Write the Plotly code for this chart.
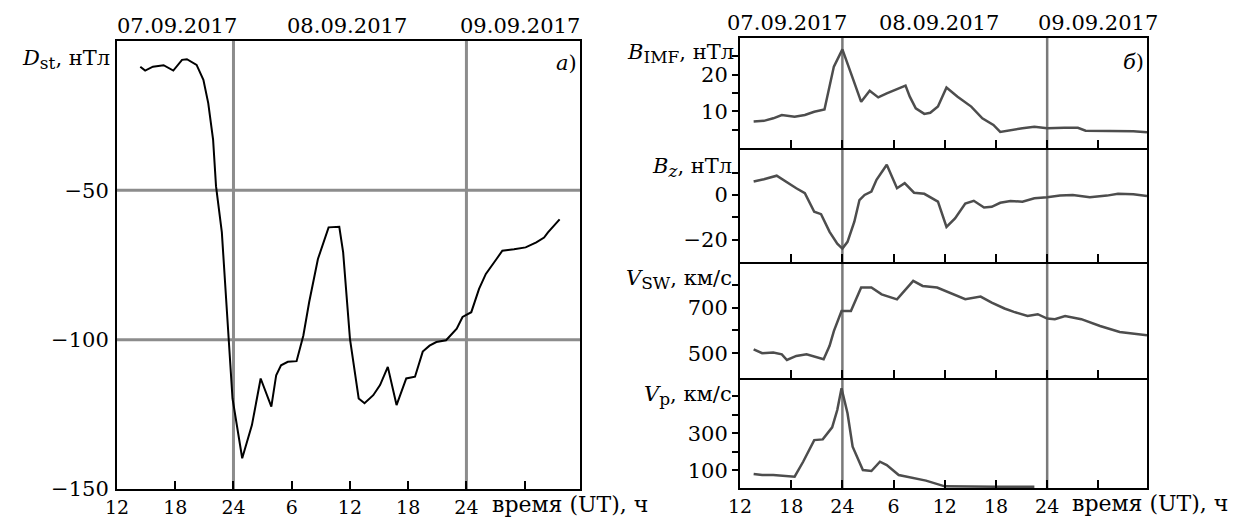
import plotly.graph_objects as go

W, H = 1247, 519
FONT = "DejaVu Serif"
FS = 21
XFS = 19

# ---------------- data (hours counted from 07.09.2017 00:00 UT) ----------------
dst_hours = [14.4, 14.9, 15.7, 16.8, 17.8, 18.7, 19.2, 20.2, 20.9, 21.4, 21.9, 22.2, 22.8, 23.5,
             23.9, 24.9, 25.9, 26.8, 27.9, 28.4, 28.9, 29.6, 30.5, 31.2, 31.8, 32.7, 33.4, 33.8,
             34.9, 35.3, 36.0, 36.9, 37.5, 38.4, 39.1, 39.9, 40.8, 41.8, 42.7, 43.5, 44.2, 44.9,
             45.9, 47.0, 47.6, 48.5, 49.3, 50.0, 51.1, 51.7, 52.9, 54.1, 55.2, 56.0, 56.4, 57.6]
dst = [-8.6, -9.9, -8.6, -8.1, -9.9, -6.3, -6.1, -8, -13, -20.8, -33, -48.6, -64, -98.6,
       -119.7, -139.7, -128.6, -113, -122.4, -111.9, -108.6, -107.4, -107.2, -98.6, -87.4, -73, -66.3, -62.4,
       -62.2, -70.8, -99.7, -119.7, -121.3, -118.6, -115.2, -109.1, -121.9, -113, -112.4, -104, -102, -100.8,
       -100.2, -96.3, -92.4, -90.8, -83, -78, -73, -70.2, -69.7, -69.1, -67.4, -65.8, -64.1, -59.7]

bimf_hours = [13.6, 14.8, 15.9, 16.9, 18.4, 19.6, 20.7, 21.9, 23.0, 24.0, 25.0, 26.2, 27.2, 28.2,
              29.2, 30.2, 31.4, 31.9, 32.6, 33.6, 34.3, 35.2, 36.2, 37.5, 39.1, 40.4, 41.7, 42.5,
              43.7, 45.1, 46.5, 48.0, 50.0, 51.6, 52.5, 54.8, 58.1, 59.7]
bimf = [7.2, 7.4, 8.1, 9.0, 8.5, 9.0, 9.9, 10.5, 22.2, 26.9, 20.4, 12.6, 15.6, 13.8,
        14.9, 15.8, 17.0, 14.0, 10.8, 9.3, 9.6, 11.3, 16.5, 14.0, 11.3, 8.1, 6.3, 4.4,
        4.9, 5.4, 5.8, 5.4, 5.5, 5.5, 4.7, 4.6, 4.6, 4.3]

bz_hours = [13.6, 14.8, 16.3, 17.3, 18.6, 19.6, 20.7, 21.5, 22.5, 23.4, 24.0, 24.6, 25.4, 26.0,
            26.6, 27.4, 28.0, 29.2, 30.4, 31.3, 32.4, 33.6, 35.2, 36.2, 37.2, 38.4, 39.4, 40.6,
            41.5, 42.5, 43.7, 45.1, 46.5, 48.0, 49.5, 51.0, 53.0, 55.0, 56.3, 58.1, 59.7]
bz = [6.0, 7.0, 8.6, 6.0, 3.0, 0.8, -7.5, -8.6, -16.5, -21.8, -24, -21, -12, -2.3,
      0, 1.5, 6.8, 13.5, 3, 5.3, 1.0, 0.5, -3, -14.3, -10.5, -3.8, -2.6, -5.6,
      -5.3, -3.5, -2.7, -3, -1.5, -1, -0.3, 0, -1, -0.3, 0.5, 0.3, -0.5]

vsw_hours = [13.6, 14.6, 15.9, 16.9, 17.5, 18.6, 19.8, 21.1, 21.8, 22.5, 23.0, 23.9, 25.0, 26.2,
             27.4, 28.6, 30.4, 32.3, 33.4, 35.1, 36.8, 38.4, 40.2, 41.5, 43.0, 44.1, 45.7, 46.9,
             48.0, 48.9, 50.1, 52.0, 54.2, 56.5, 59.7]
vsw = [517, 500, 503, 495, 470, 488, 495, 481, 473, 532, 597, 685, 685, 788,
       788, 758, 736, 817, 795, 788, 763, 737, 748, 722, 696, 681, 663, 671,
       652, 649, 663, 649, 619, 593, 579]

vp_hours = [13.6, 14.6, 15.9, 16.9, 18.4, 19.4, 20.7, 21.7, 22.8, 23.4, 23.9, 24.6, 25.2, 26.4,
            27.4, 28.4, 29.2, 30.6, 31.9, 33.8, 36.0, 38.0, 42.0, 46.5]
vp = [81, 75, 75, 70, 66, 147, 264, 268, 333, 427, 544, 409, 228, 102,
      97, 147, 129, 75, 63, 45, 14, 12, 12, 12]

x_tickvals = [12, 18, 24, 30, 36, 42, 48, 54]
x_ticktext = ["12", "18", "24", "6", "12", "18", "24", ""]
day_lines = [24, 48]
date_labels = ["07.09.2017", "08.09.2017", "09.09.2017"]

# ---------------- layout helpers ----------------
def px(x):
    return x / W

def py(y):
    return 1 - y / H

XR = [12, 59.7]
LEFT_DOM = [px(117), px(580)]
RIGHT_DOM = [px(740), px(1147)]

fig = go.Figure()

line_dark = "#4d4d4d"
fig.add_trace(go.Scatter(x=dst_hours, y=dst, mode="lines", line=dict(color="black", width=2),
                         xaxis="x", yaxis="y", showlegend=False))
for i, (hh, vv) in enumerate([(bimf_hours, bimf), (bz_hours, bz), (vsw_hours, vsw), (vp_hours, vp)]):
    n = i + 2
    fig.add_trace(go.Scatter(x=hh, y=vv, mode="lines", line=dict(color=line_dark, width=2.5),
                             xaxis=f"x{n}", yaxis=f"y{n}", showlegend=False))

axis_common = dict(showline=True, linecolor="black", linewidth=2,
                   showgrid=False, zeroline=False, automargin=False,
                   tickfont=dict(family=FONT, size=FS, color="black"))

layout = dict(
    width=W, height=H, autosize=False,
    margin=dict(l=0, r=0, t=0, b=0, pad=0),
    paper_bgcolor="white", plot_bgcolor="white",
    font=dict(family=FONT, size=FS, color="black"),
    showlegend=False,
)

layout["xaxis"] = dict(axis_common, domain=LEFT_DOM, range=XR, anchor="y", mirror=True,
                       tickvals=x_tickvals, ticktext=x_ticktext, ticks="inside",
                       ticklen=8, tickwidth=2, tickcolor="black",
                       tickfont=dict(family=FONT, size=XFS, color="black"))
layout["yaxis"] = dict(axis_common, domain=[py(489), py(41)], range=[-150, 0], anchor="x", mirror=True,
                       tickvals=[-150, -100, -50], ticktext=["\u2212150", "\u2212100", "\u221250"],
                       ticks="outside", ticklen=2, tickcolor="white")

right_bounds = [(38, 148), (148, 262), (262, 378), (378, 488)]
y_specs = [
    dict(range=[0, 30], tickvals=[5, 10, 15, 20, 25], ticktext=["", "10", "", "20", ""]),
    dict(range=[-30, 21], tickvals=[-20, -10, 0, 10], ticktext=["\u221220", "", "0", ""]),
    dict(range=[391, 900], tickvals=[500, 600, 700, 800], ticktext=["500", "", "700", ""]),
    dict(range=[5, 600], tickvals=[100, 200, 300, 400, 500], ticktext=["100", "", "300", "", ""]),
]
for i, ((top, bot), ys) in enumerate(zip(right_bounds, y_specs)):
    n = i + 2
    layout[f"xaxis{n}"] = dict(axis_common, domain=RIGHT_DOM, range=XR, anchor=f"y{n}",
                               mirror=(n == 2),
                               tickvals=x_tickvals, ticktext=x_ticktext, ticks="inside",
                               ticklen=8, tickwidth=2, tickcolor="black",
                               tickfont=dict(family=FONT, size=XFS, color="black"),
                               showticklabels=(n == 5))
    layout[f"yaxis{n}"] = dict(axis_common, domain=[py(bot), py(top)], anchor=f"x{n}", mirror=True,
                               ticks="outside", ticklen=6, tickwidth=2, tickcolor="black", **ys)

shapes = []
grid_col = "#8c8c8c"
for v in [-50, -100]:
    shapes.append(dict(type="line", xref="x domain", yref="y", x0=0, x1=1, y0=v, y1=v,
                       line=dict(color=grid_col, width=3), layer="below"))
for d in day_lines:
    shapes.append(dict(type="line", xref="x", yref="y domain", x0=d, x1=d, y0=0, y1=1,
                       line=dict(color=grid_col, width=3), layer="below"))
    shapes.append(dict(type="line", xref="x5", yref="paper", x0=d, x1=d, y0=py(488), y1=py(38),
                       line=dict(color="#7a7a7a", width=2.5), layer="below"))
layout["shapes"] = shapes

ann = []
def add_text(text, x, y, xanchor="center", size=FS):
    ann.append(dict(text=text, x=px(x), y=py(y), xref="paper", yref="paper",
                    xanchor=xanchor, yanchor="middle", showarrow=False,
                    font=dict(family=FONT, size=size, color="black")))

for lbl, cx in zip(date_labels, [177, 347, 520]):
    add_text(lbl, cx, 26)
for lbl, cx in zip(date_labels, [787, 939, 1098]):
    add_text(lbl, cx, 23)

SUB = '<sub><span style="font-size:17px">{}</span></sub>'
add_text("<i>D</i>" + SUB.format("st") + ", нТл", 112, 60, xanchor="right")
add_text("<i>a</i>)", 566, 63)
add_text("<i>б</i>)", 1133, 62)
add_text("<i>B</i>" + SUB.format("IMF") + ", нТл", 736, 53, xanchor="right")
add_text("<i>B</i>" + SUB.format("<i>z</i>") + ", нТл", 734, 167, xanchor="right")
add_text("<i>V</i>" + SUB.format("SW") + ", км/с", 734, 279, xanchor="right")
add_text("<i>V</i>" + SUB.format("p") + ", км/с", 734, 395, xanchor="right")
add_text("время (UT), ч", 490, 504, xanchor="left", size=22)
add_text("время (UT), ч", 1070, 503, xanchor="left", size=22)
layout["annotations"] = ann

fig.update_layout(**layout)
fig.write_html("out.html")
